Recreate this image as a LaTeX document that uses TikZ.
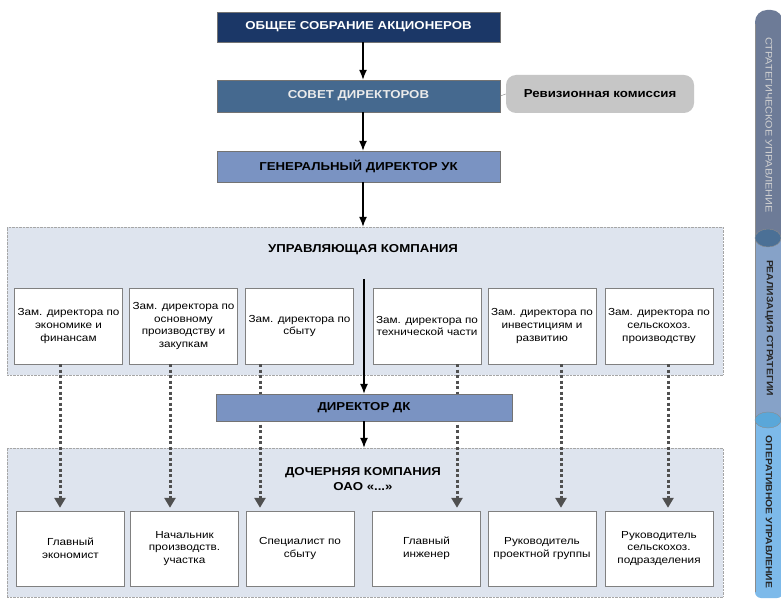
\documentclass[tikz,border=0pt]{standalone}
\usepackage{fontspec}
\setmainfont{Liberation Sans}[FakeStretch=1.15]
\usetikzlibrary{arrows.meta}

\definecolor{osacol}{HTML}{1B3767}
\definecolor{sdcol}{HTML}{45698F}
\definecolor{gdcol}{HTML}{7A93C2}
\definecolor{revcol}{HTML}{C6C6C6}
\definecolor{panelcol}{HTML}{DEE4EE}
\definecolor{dashcol}{HTML}{505050}
\definecolor{barA}{HTML}{6D7B97}
\definecolor{barAj}{HTML}{4B7096}
\definecolor{barB}{HTML}{86A2C8}
\definecolor{barBj}{HTML}{5AA7D9}
\definecolor{barC}{HTML}{7DBAEA}

\begin{document}
\begin{tikzpicture}[x=1pt,y=-1pt,
    headbox/.style={draw=black!55, minimum width=283pt, inner sep=0pt,
      font=\bfseries\fontsize{11.5}{13}\selectfont},
    panel/.style={draw=black!35, densely dotted, fill=panelcol, minimum width=716pt, inner sep=0pt},
    panelhead/.style={font=\bfseries\fontsize{11.5}{15}\selectfont, align=center, inner sep=0pt},
    unitbox/.style={draw=black!50, fill=white, minimum width=108pt, align=center,
      inner sep=0pt, font=\fontsize{10.2}{12.6}\selectfont},
    arr/.style={-{Latex[length=10pt,width=8pt]}, line width=1.3pt},
    dasharr/.style={-{Triangle[length=10pt,width=11pt]}, dashcol, line width=3pt,
      dash pattern=on 3pt off 2.5pt},
    bartext/.style={rotate=-90, font=\bfseries\fontsize{9}{10}\selectfont, text=black!85}]
  \useasboundingbox[fill=white] (0,0) rectangle (781,601);

  % upper chain
  \coordinate (axis) at (363,0);
  \node[headbox, fill=osacol, text=white, minimum height=30pt] (osa) at (358.5,27) {ОБЩЕЕ СОБРАНИЕ АКЦИОНЕРОВ};
  \node[headbox, fill=sdcol, text=white!92!black, minimum height=32pt] (sd) at (358.5,96) {СОВЕТ ДИРЕКТОРОВ};
  \node[fill=revcol, rounded corners=10pt, minimum width=188pt, minimum height=38pt,
    font=\bfseries\fontsize{11.5}{13}\selectfont] (rev) at (600,94) {Ревизионная комиссия};
  \node[headbox, fill=gdcol, minimum height=31pt] (gd) at (358.5,166.5) {ГЕНЕРАЛЬНЫЙ ДИРЕКТОР УК};
  \draw[black!50] (sd.east) -- (rev.west);
  \draw[arr] (osa.south -| axis) -- (sd.north -| axis);
  \draw[arr] (sd.south -| axis) -- (gd.north -| axis);

  % panels
  \node[panel, minimum height=148pt] (ukp) at (365,301) {};
  \node[panel, minimum height=149pt] (dcp) at (365,522.5) {};
  \node[panelhead] (ukhead) at (363,250) {УПРАВЛЯЮЩАЯ КОМПАНИЯ};
  \node[panelhead] (dchead) at (363,479) {ДОЧЕРНЯЯ КОМПАНИЯ\\ОАО «...»};
  \draw[arr] (gd.south -| axis) -- (ukp.north -| axis);

  % deputies
  \node[unitbox, minimum height=76pt] (u1) at (68.5,326) {Зам. директора по\\экономике и\\финансам};
  \node[unitbox, minimum height=76pt] (u2) at (183.5,326) {Зам. директора по\\основному\\производству и\\закупкам};
  \node[unitbox, minimum height=76pt] (u3) at (299.5,326) {Зам. директора по\\сбыту};
  \node[unitbox, minimum height=76pt] (u4) at (427,326) {Зам. директора по\\технической части};
  \node[unitbox, minimum height=76pt] (u5) at (542,326) {Зам. директора по\\инвестициям и\\развитию};
  \node[unitbox, minimum height=76pt] (u6) at (659,326) {Зам. директора по\\сельскохоз.\\производству};

  % subsidiary units
  \node[unitbox, minimum height=75pt] (d1) at (70.5,548.5) {Главный\\экономист};
  \node[unitbox, minimum height=75pt] (d2) at (184.5,548.5) {Начальник\\производств.\\участка};
  \node[unitbox, minimum height=75pt] (d3) at (300,548.5) {Специалист по\\сбыту};
  \node[unitbox, minimum height=75pt] (d4) at (426.5,548.5) {Главный\\инженер};
  \node[unitbox, minimum height=75pt] (d5) at (542,548.5) {Руководитель\\проектной группы};
  \node[unitbox, minimum height=75pt] (d6) at (659,548.5) {Руководитель\\сельскохоз.\\подразделения};

  % functional links
  \foreach \i/\x in {1/60,2/170,3/260,4/457,5/561,6/668}{
    \coordinate (link\i) at (\x,0);
    \draw[dasharr] (u\i.south -| link\i) -- ([yshift=3pt]d\i.north -| link\i);
  }

  % director of subsidiary
  \coordinate (ukspine) at (364,279);
  \node[headbox, fill=gdcol, minimum width=296pt, minimum height=27pt] (dk) at (364,407.5) {ДИРЕКТОР ДК};
  \draw[arr] (ukspine) -- (dk.north -| ukspine);
  \draw[arr] (dk.south -| ukspine) -- (dcp.north -| ukspine);

  % side bar
  \fill[barA, rounded corners=12pt] (755,250) rectangle (783,10);
  \fill[barB] (755,238) rectangle (783,420);
  \fill[barC, rounded corners=6pt] (755,598) rectangle (783,420);
  \fill[barC] (755,420) rectangle (783,560);
  \draw[black!45] (755,24) -- (755,592);
  \fill[barAj, draw=black!45] (768,238) ellipse [x radius=13, y radius=9];
  \fill[barBj, draw=black!45] (768,420) ellipse [x radius=13, y radius=8];
  \node[bartext, font=\fontsize{9.5}{10}\selectfont, text=white!82!black] (stratman) at (769,125) {СТРАТЕГИЧЕСКОЕ УПРАВЛЕНИЕ};
  \node[bartext] (stratimpl) at (769,328) {РЕАЛИЗАЦИЯ СТРАТЕГИИ};
  \node[bartext] (operman) at (769,512) {ОПЕРАТИВНОЕ УПРАВЛЕНИЕ};
\end{tikzpicture}
\end{document}
